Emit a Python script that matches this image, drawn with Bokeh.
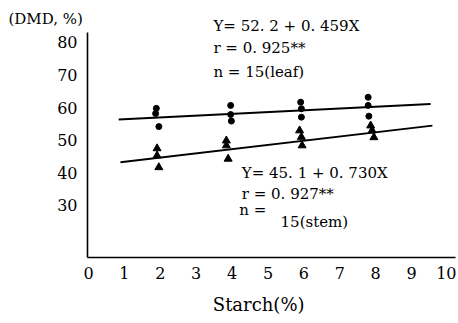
from bokeh.plotting import figure
from bokeh.models import Label, Range1d, FixedTicker
from bokeh.embed import file_html
from bokeh.resources import INLINE

# ---- data ----
leaf_x = [1.89, 1.87, 1.96, 3.96, 3.96, 3.98, 5.91, 5.93, 5.93, 7.79, 7.79, 7.81]
leaf_y = [59.8, 58.2, 54.2, 60.7, 57.9, 55.9, 61.7, 59.7, 57.1, 63.2, 60.7, 57.4]
stem_x = [1.91, 1.91, 1.96, 3.84, 3.84, 3.89, 5.88, 5.93, 5.95, 7.86, 7.9, 7.95]
stem_y = [47.5, 45.3, 41.7, 49.9, 48.4, 44.3, 53.0, 51.0, 48.4, 54.5, 53.0, 50.9]
leaf_fit_x = [0.84, 9.53]
leaf_fit_y = [56.4, 61.1]
stem_fit_x = [0.89, 9.58]
stem_fit_y = [43.3, 54.5]
x_ticks = [0, 1, 2, 3, 4, 5, 6, 7, 8, 9, 10]
y_ticks = [30, 40, 50, 60, 70, 80]
leaf_text = ["Y= 52. 2 + 0. 459X", "r = 0. 925**", "n = 15(leaf)"]
stem_text = ["Y= 45. 1 + 0. 730X", "r = 0. 927**", "n =", "15(stem)"]
y_title = "(DMD, %)"
x_title = "Starch(%)"

FONT = "DejaVu Serif"
X0, X1 = -2.451, 10.251
Y0, Y1 = -5.583, 92.883
X_AX, Y_AX = -0.028, 14.05
X_END, Y_END = 10.22, 83.07

p = figure(width=456, height=321, output_backend="svg", toolbar_location=None,
           x_range=Range1d(X0, X1), y_range=Range1d(Y0, Y1),
           min_border_left=0, min_border_right=0, min_border_top=0,
           min_border_bottom=0)
p.outline_line_color = None
p.xgrid.visible = False
p.ygrid.visible = False
p.background_fill_color = "white"
p.border_fill_color = "white"

p.line(leaf_fit_x, leaf_fit_y, line_color="black", line_width=2)
p.line(stem_fit_x, stem_fit_y, line_color="black", line_width=2)
p.scatter(leaf_x, leaf_y, marker="circle", size=6, fill_color="black", line_color="black")
p.scatter(stem_x, stem_y, marker="triangle", size=8, fill_color="black", line_color="black")

for ax, ticks in ((p.xaxis, x_ticks), (p.yaxis, y_ticks)):
    ax.ticker = FixedTicker(ticks=ticks)
    ax.major_tick_out = 0
    ax.major_tick_in = 0
    ax.minor_tick_out = 0
    ax.minor_tick_in = 0
    ax.axis_line_color = "black"
    ax.axis_line_width = 1.6
    ax.major_label_text_font = FONT
    ax.major_label_text_font_size = "16px"
    ax.major_label_text_color = "black"
p.xaxis.fixed_location = Y_AX
p.yaxis.fixed_location = X_AX
p.xaxis.bounds = (X_AX, X_END)
p.yaxis.bounds = (Y_AX, Y_END)
p.xaxis.major_label_standoff = 10
p.yaxis.major_label_standoff = 10

def add(txt, x, y, size="15px", align="left"):
    p.add_layout(Label(x=x, y=y, text=txt, text_font=FONT, text_font_size=size,
                       text_baseline="middle", text_align=align, text_color="black"))

add(leaf_text[0], 3.48, 85.21)
add(leaf_text[1], 3.48, 78.16)
add(leaf_text[2], 3.48, 71.10)
add(stem_text[0], 4.27, 39.82)
add(stem_text[1], 4.27, 33.68)
add(stem_text[2], 4.20, 28.47)
add(stem_text[3], 5.35, 25.09)
add(y_title, -2.23, 87.36, size="15px")
add(x_title, 4.74, -0.4, size="18px", align="center")

open("out.html", "w").write(file_html(p, INLINE))
